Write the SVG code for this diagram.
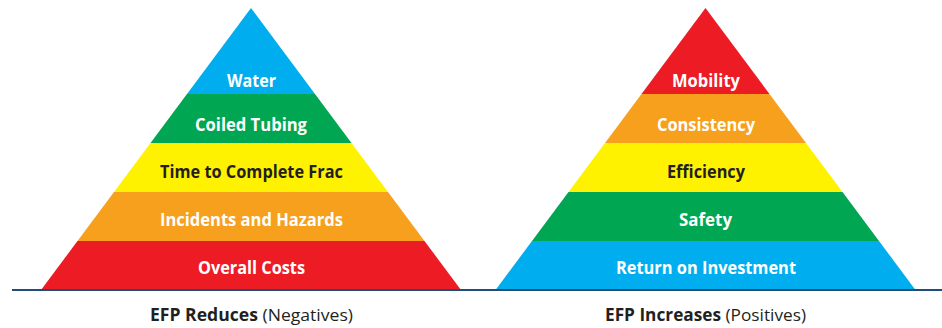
<svg xmlns="http://www.w3.org/2000/svg" width="942" height="328" viewBox="0 0 942 328">
  <style>
    .lbl { font-family: "Open Sans", "Liberation Sans", sans-serif; font-weight: 700; font-size: 18px; text-anchor: middle; fill: #ffffff; }
    .dark { fill: #231f20; }
    .cap { font-family: "Open Sans", "Liberation Sans", sans-serif; font-size: 17px; text-anchor: middle; fill: #231f20; }
    .cap .b { font-weight: 700; }
    .blue { fill: #00aeef; }
    .green { fill: #00a651; }
    .yellow { fill: #fff200; }
    .orange { fill: #f7a01e; }
    .red { fill: #ed1c24; }
  </style>

  <!-- left pyramid: what EFP reduces -->
  <g id="reduces">
    <g id="water">
      <polygon class="blue" points="251,8 315,94 187,94"/>
      <text class="lbl" x="251.5" y="87" textLength="49" lengthAdjust="spacingAndGlyphs">Water</text>
    </g>
    <g id="coiled-tubing">
      <polygon class="green" points="187,94 315,94 351.5,143 150.5,143"/>
      <text class="lbl" x="251" y="131" textLength="112" lengthAdjust="spacingAndGlyphs">Coiled Tubing</text>
    </g>
    <g id="time-to-complete">
      <polygon class="yellow" points="150.5,143 351.5,143 388,192 114,192"/>
      <text class="lbl dark" x="251.5" y="178" textLength="183" lengthAdjust="spacingAndGlyphs">Time to Complete Frac</text>
    </g>
    <g id="incidents">
      <polygon class="orange" points="114,192 388,192 424.5,241 77.5,241"/>
      <text class="lbl" x="251.5" y="226" textLength="183" lengthAdjust="spacingAndGlyphs">Incidents and Hazards</text>
    </g>
    <g id="overall-costs">
      <polygon class="red" points="77.5,241 424.5,241 461,290 41,290"/>
      <text class="lbl" x="251.5" y="274" textLength="107" lengthAdjust="spacingAndGlyphs">Overall Costs</text>
    </g>
    <text class="cap" x="251.5" y="321" textLength="203" lengthAdjust="spacingAndGlyphs"><tspan class="b">EFP Reduces</tspan> (Negatives)</text>
  </g>

  <!-- right pyramid: what EFP increases -->
  <g id="increases">
    <g id="mobility">
      <polygon class="red" points="705.5,8 769.5,94 641.5,94"/>
      <text class="lbl" x="706" y="87" textLength="68" lengthAdjust="spacingAndGlyphs">Mobility</text>
    </g>
    <g id="consistency">
      <polygon class="orange" points="641.5,94 769.5,94 806,143 605,143"/>
      <text class="lbl" x="706" y="131" textLength="98" lengthAdjust="spacingAndGlyphs">Consistency</text>
    </g>
    <g id="efficiency">
      <polygon class="yellow" points="605,143 806,143 842.5,192 568.5,192"/>
      <text class="lbl dark" x="706" y="178" textLength="78" lengthAdjust="spacingAndGlyphs">Efficiency</text>
    </g>
    <g id="safety">
      <polygon class="green" points="568.5,192 842.5,192 879,241 532,241"/>
      <text class="lbl" x="705.5" y="226" textLength="53" lengthAdjust="spacingAndGlyphs">Safety</text>
    </g>
    <g id="roi">
      <polygon class="blue" points="532,241 879,241 915.5,290 495.5,290"/>
      <text class="lbl" x="706" y="274" textLength="180" lengthAdjust="spacingAndGlyphs">Return on Investment</text>
    </g>
    <text class="cap" x="705.5" y="321" textLength="201" lengthAdjust="spacingAndGlyphs"><tspan class="b">EFP Increases</tspan> (Positives)</text>
  </g>

  <!-- shared ground line -->
  <rect x="12" y="289" width="930" height="2" fill="#1f4d78"/>
</svg>
